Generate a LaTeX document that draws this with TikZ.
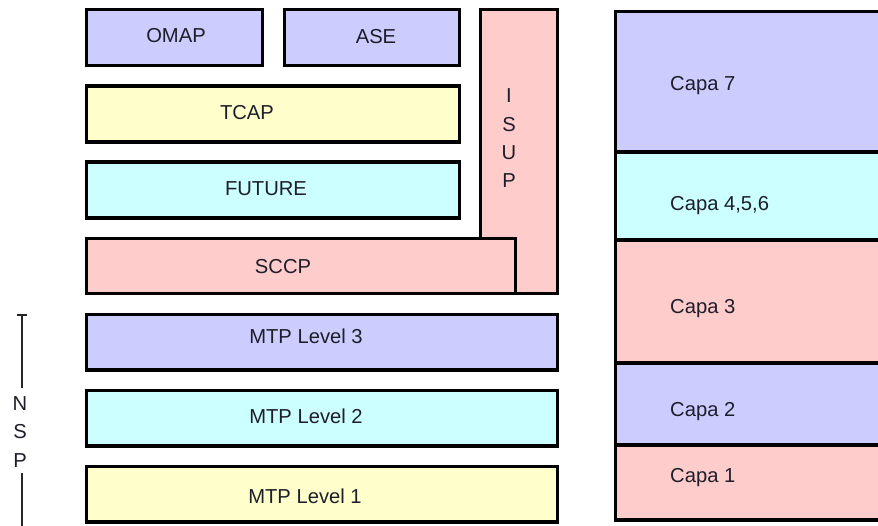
\documentclass[tikz,border=0pt]{standalone}
\usepackage{fontspec}
\setmainfont{Liberation Sans}
\definecolor{lav}{HTML}{CCCCFF}
\definecolor{cyn}{HTML}{CCFFFF}
\definecolor{yel}{HTML}{FFFFCC}
\definecolor{pnk}{HTML}{FFCCCC}
\definecolor{txt}{HTML}{1E1E2A}
\tikzset{
  layer/.style={draw=black, line width=3.2pt},
  lbl/.style={anchor=base, inner sep=0pt, text=txt, font=\fontsize{20.2}{23}\selectfont},
  lbll/.style={lbl, anchor=base west},
  bar/.style={draw=black!85, line width=1.5pt}
}
\begin{document}
\begin{tikzpicture}[x=1pt, y=-1pt]
\useasboundingbox (0,0) rectangle (878,526);
\clip (0,0) rectangle (878,526);
% left stack
\draw[layer, fill=lav] (86.5,9.5) rectangle (262.5,65.5);
\draw[layer, fill=lav] (284.5,9.5) rectangle (459.5,65.5);
\draw[layer, fill=yel] (86.5,86) rectangle (459.5,142);
\draw[layer, fill=cyn] (86.5,162) rectangle (459.5,218);
\draw[layer, fill=pnk] (480.5,9.5) rectangle (557.5,293.5);
\draw[layer, fill=pnk] (86.5,238.5) rectangle (515.5,293.5);
\draw[layer, fill=lav] (86.5,314.5) rectangle (557.5,370);
\draw[layer, fill=cyn] (86.5,390.5) rectangle (557.5,446);
\draw[layer, fill=yel] (86.5,466.5) rectangle (557.5,522);
\node[lbl] (omap) at (176,43) {OMAP};
\node[lbl] (ase) at (376,43.5) {ASE};
\node[lbl] (tcap) at (247,119.5) {TCAP};
\node[lbl] (future) at (266,196) {FUTURE};
\node[lbl] (sccp) at (283,274) {SCCP};
\node[lbl] (mtp3) at (306,344) {MTP Level 3};
\node[lbl] (mtp2) at (306,424) {MTP Level 2};
\node[lbl] (mtp1) at (305,503) {MTP Level 1};
\node[lbl] (isupI) at (509,103) {I};
\node[lbl] (isupS) at (509,132) {S};
\node[lbl] (isupU) at (509,160) {U};
\node[lbl] (isupP) at (509,188) {P};
% NSP bracket
\node[lbl] (nspN) at (20,410) {N};
\node[lbl] (nspS) at (20,438) {S};
\node[lbl] (nspP) at (20,467) {P};
\coordinate (t1) at (22,315);
\coordinate (t2) at (22,388);
\coordinate (b1) at (22,473);
\coordinate (b2) at (22,530);
\draw[bar] (t1) -- (t2);
\draw[bar] (17,315) -- (27,315);
\draw[bar] (b1) -- (b2);
% right column (OSI)
\draw[layer, fill=lav] (615.5,11.5) rectangle (890,152);
\draw[layer, fill=cyn] (615.5,152) rectangle (890,240);
\draw[layer, fill=pnk] (615.5,240) rectangle (890,363);
\draw[layer, fill=lav] (615.5,363) rectangle (890,445);
\draw[layer, fill=pnk] (615.5,445) rectangle (890,520);
\node[lbll] (c7) at (670,91) {Capa 7};
\node[lbll] (c456) at (670,211) {Capa 4,5,6};
\node[lbll] (c3) at (670,314) {Capa 3};
\node[lbll] (c2) at (670,416) {Capa 2};
\node[lbll] (c1) at (670,482) {Capa 1};
\end{tikzpicture}
\end{document}
